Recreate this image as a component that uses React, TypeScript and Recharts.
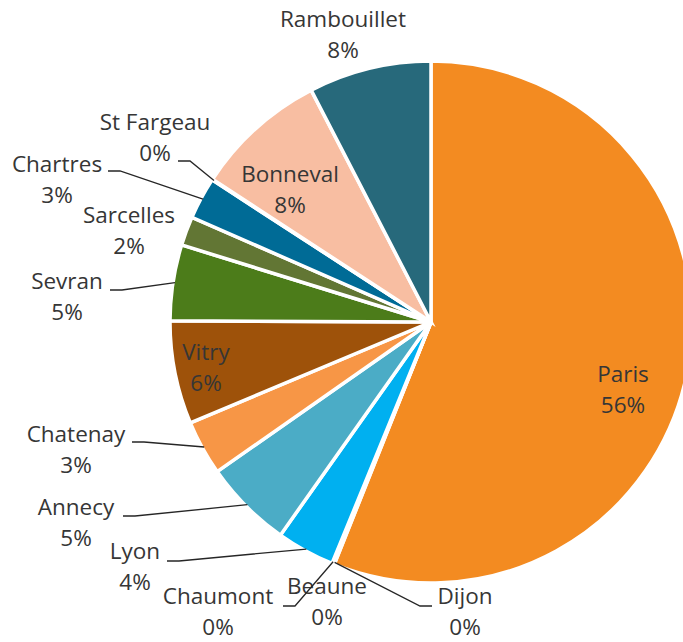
import { PieChart, Pie, Cell } from 'recharts'

const names = ['Paris', 'Dijon', 'Beaune', 'Chaumont', 'Lyon', 'Annecy', 'Chatenay', 'Vitry', 'Sevran', 'Sarcelles', 'Chartres', 'St Fargeau', 'Bonneval', 'Rambouillet']
const values = [56.1, 0.05, 0.05, 0.05, 3.6, 5.5, 3.4, 6.4, 4.7, 1.8, 2.6, 0.05, 8.2, 7.6]
const colors = ['#F38B21', '#4472C4', '#A5A5A5', '#FFC000', '#00B0F0', '#4BACC6', '#F79646', '#9E520A', '#4C7C1A', '#627634', '#006B96', '#264478', '#F8BEA2', '#27697B']

const data = names.map((name, i) => ({ name, value: values[i] }))

const CX = 431
const CY = 322
const R = 261
const FONT = '"Open Sans", sans-serif'
const FONT_SIZE = 22.5
const LINE_H = 31
const TEXT = '#363636'

// where each label sits, relative to the pie centre (name baseline), plus where its leader starts
const labelLayout: Record<string, { dx: number; dy: number; lx?: number; ly?: number }> = {
  Paris: { dx: 192, dy: 60 },
  Dijon: { dx: 34, dy: 282, lx: 1, ly: 284 },
  Beaune: { dx: -104, dy: 272 },
  Chaumont: { dx: -213, dy: 282, lx: -148, ly: 284 },
  Lyon: { dx: -296, dy: 237, lx: -264, ly: 239 },
  Annecy: { dx: -355, dy: 193, lx: -308, ly: 194 },
  Chatenay: { dx: -355, dy: 120, lx: -299, ly: 120 },
  Vitry: { dx: -225, dy: 38 },
  Sevran: { dx: -364, dy: -33, lx: -321, ly: -32 },
  Sarcelles: { dx: -302, dy: -99 },
  Chartres: { dx: -374, dy: -150, lx: -323, ly: -151 },
  'St Fargeau': { dx: -276, dy: -192, lx: -253, ly: -161 },
  Bonneval: { dx: -141, dy: -140 },
  Rambouillet: { dx: -88, dy: -295 },
}

function renderLabel(props: any) {
  const { cx, cy, midAngle, outerRadius, percent, name } = props
  const l = labelLayout[name]
  if (!l) return null
  const x = cx + l.dx
  const y = cy + l.dy
  let leader = null
  if (l.lx != null && l.ly != null) {
    const rad = (-midAngle * Math.PI) / 180
    const px = cx + (outerRadius - 2) * Math.cos(rad)
    const py = cy + (outerRadius - 2) * Math.sin(rad)
    const ax = cx + l.lx
    const ay = cy + l.ly
    const bx = ax + Math.sign(px - ax) * 12
    leader = (
      <polyline points={`${ax},${ay} ${bx},${ay} ${px},${py}`} fill="none" stroke="#262626" strokeWidth={1.3} />
    )
  }
  return (
    <g key={`label-${name}`}>
      {leader}
      <text x={x} y={y} textAnchor="middle" fill={TEXT} fontSize={FONT_SIZE} fontFamily={FONT}>{name}</text>
      <text x={x} y={y + LINE_H} textAnchor="middle" fill={TEXT} fontSize={FONT_SIZE} fontFamily={FONT}>
        {`${Math.round(percent * 100)}%`}
      </text>
    </g>
  )
}

export default function App() {
  return (
    <div style={{ position: 'absolute', left: 0, top: 0, background: '#fff' }}>
      <PieChart width={683} height={642} margin={{ top: 0, right: 0, bottom: 0, left: 0 }}>
        <Pie
          data={data}
          dataKey="value"
          nameKey="name"
          cx={CX}
          cy={CY}
          outerRadius={R}
          startAngle={90}
          endAngle={-270}
          stroke="#fff"
          strokeWidth={3.5}
          label={renderLabel}
          labelLine={false}
          isAnimationActive={false}
        >
          {data.map((d, i) => (
            <Cell key={d.name} fill={colors[i]} />
          ))}
        </Pie>
      </PieChart>
    </div>
  )
}
